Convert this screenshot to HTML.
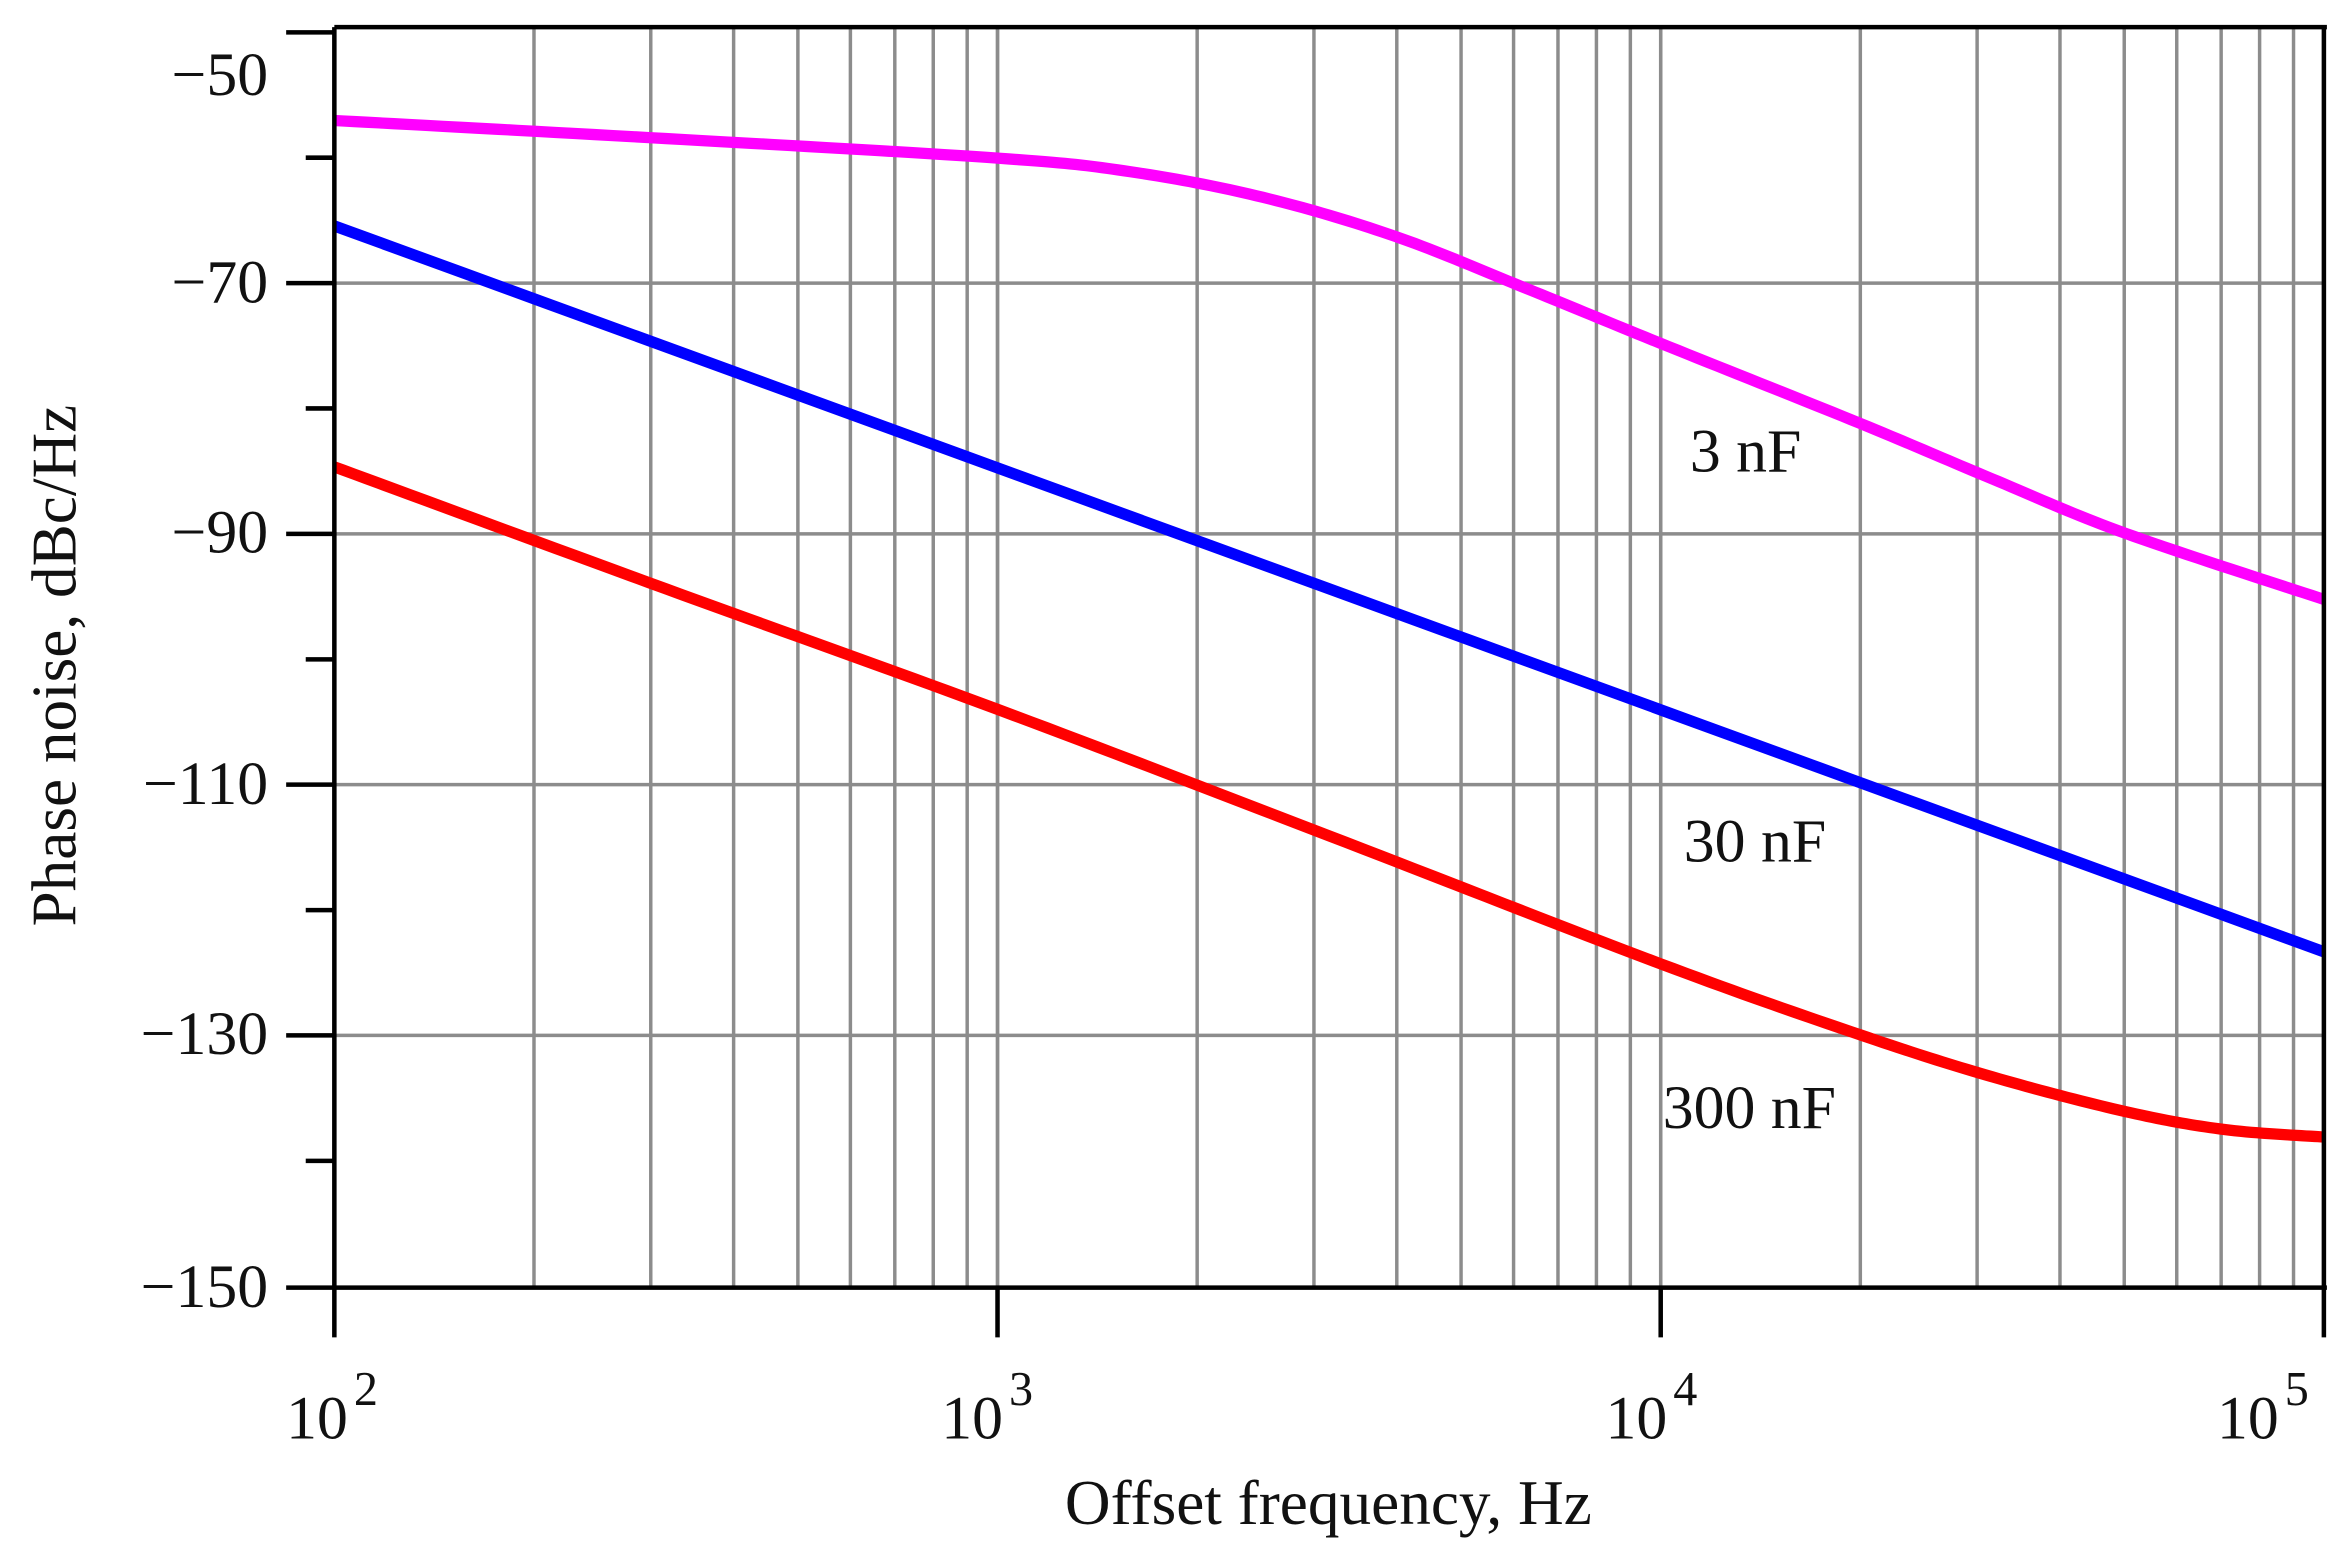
<!DOCTYPE html>
<html><head><meta charset="utf-8"><style>
html,body{margin:0;padding:0;background:#fff;}
svg{display:block;}
text{font-family:"Liberation Serif","DejaVu Serif",serif;}
</style></head><body>
<svg width="2351" height="1561" viewBox="0 0 1561 1036.5" preserveAspectRatio="none" xmlns="http://www.w3.org/2000/svg">
<g id="grid" stroke="#8c8c8c" stroke-width="2.3" fill="none"></g>
<g id="curves" fill="none" stroke-width="7.5" stroke-linejoin="round"></g>
<g stroke="#000" stroke-width="3" fill="none">
<line x1="222" y1="18" x2="1545" y2="18"/>
<line x1="222" y1="855" x2="1545" y2="855"/>
<line x1="222" y1="18" x2="222" y2="856"/>
<line x1="1543" y1="18" x2="1543" y2="856"/>
</g>
<g id="ticks" stroke="#000" stroke-width="3"></g>
<g font-size="41" fill="#111" text-anchor="end">
<text x="178" y="63">−50</text>
<text x="178" y="201">−70</text>
<text x="178" y="367">−90</text>
<text x="178" y="534">−110</text>
<text x="178" y="700">−130</text>
<text x="178" y="868">−150</text>
</g>
<g font-size="41" fill="#111">
<text x="190" y="955">10<tspan font-size="32" dy="-22" dx="4">2</tspan></text>
<text x="625" y="955">10<tspan font-size="32" dy="-22" dx="4">3</tspan></text>
<text x="1066" y="955">10<tspan font-size="32" dy="-22" dx="4">4</tspan></text>
<text x="1472" y="955">10<tspan font-size="32" dy="-22" dx="4">5</tspan></text>
</g>
<text x="882" y="1012" font-size="42" text-anchor="middle" fill="#111">Offset frequency, Hz</text>
<text transform="translate(50,442) rotate(-90)" font-size="42" text-anchor="middle" fill="#111">Phase noise, dBc/Hz</text>
<g font-size="41" fill="#111">
<text x="1122" y="313">3 nF</text>
<text x="1118" y="572">30 nF</text>
<text x="1104" y="749">300 nF</text>
</g>
</svg>
<script>
(function(){
var ns="http://www.w3.org/2000/svg";
var L=222,D=440.33;
function X(lx){return L+D*(lx-2);}
var g=document.getElementById('grid');
function line(p,x1,y1,x2,y2){var l=document.createElementNS(ns,'line');l.setAttribute('x1',x1);l.setAttribute('y1',y1);l.setAttribute('x2',x2);l.setAttribute('y2',y2);p.appendChild(l);}
for(var d=2;d<5;d++){for(var m=1;m<=10;m++){var x=X(d+Math.log10(m));if(x>224&&x<1541)line(g,x,18,x,855);}}
[188,354.5,521,687.5].forEach(function(y){line(g,222,y,1543,y);});
var t=document.getElementById('ticks');
[21.5,188,354.5,521,687.5,855].forEach(function(y){line(t,190,y,222,y);});
[104.7,271.2,437.8,604.3,770.8].forEach(function(y){line(t,203,y,222,y);});
[2,3,4,5].forEach(function(d){line(t,X(d),855,X(d),888);});
function cr(pts){
  var s="";
  for(var i=0;i<pts.length-1;i++){
    var p0=pts[Math.max(0,i-1)],p1=pts[i],p2=pts[i+1],p3=pts[Math.min(pts.length-1,i+2)];
    for(var k=0;k<=20;k++){var u=k/20,u2=u*u,u3=u2*u;
      var f=function(a,b,c,d){return 0.5*((2*b)+(-a+c)*u+(2*a-5*b+4*c-d)*u2+(-a+3*b-3*c+d)*u3);};
      var x=X(f(p0[0],p1[0],p2[0],p3[0])),y=f(p0[1],p1[1],p2[1],p3[1]);
      s+=(s?"L":"M")+x.toFixed(2)+","+y.toFixed(2);}
  }
  return s;
}
var series=[
 ["#ff00ff",[[2,80],[2.5,92],[3,105],[3.2,114],[3.4,131],[3.6,157],[3.8,192],[4,228],[4.3,281],[4.5,318],[4.7,354],[5,398]]],
 ["#0000ff",[[2,150],[5,632]]],
 ["#ff0000",[[2,310],[2.5,391],[3,471],[3.5,555],[4,640],[4.3,687],[4.5,715],[4.7,738],[4.85,750],[5,755]]]
];
var c=document.getElementById('curves');
series.forEach(function(s){var p=document.createElementNS(ns,'path');p.setAttribute('d',cr(s[1]));p.setAttribute('stroke',s[0]);c.appendChild(p);});
})();
</script>
</body></html>
